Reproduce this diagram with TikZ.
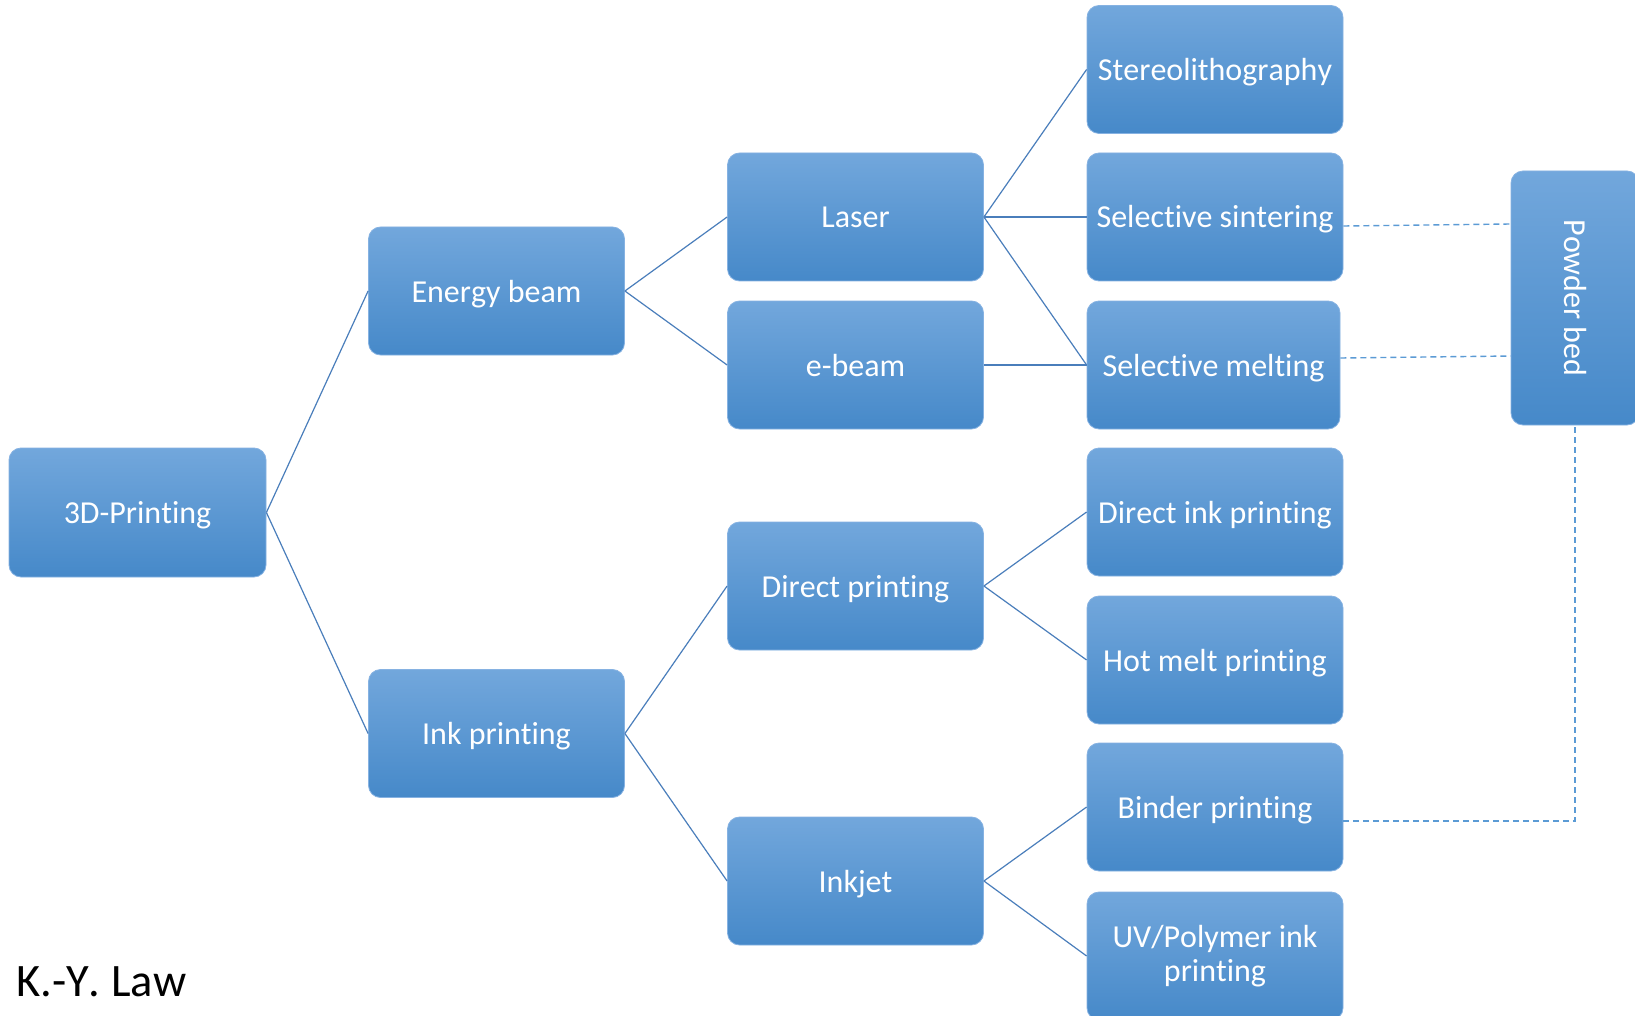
\documentclass[tikz,border=0pt]{standalone}
\usepackage{fontspec}
\setmainfont{Carlito}[Ligatures={NoCommon}, Kerning=Off, RawFeature={-liga;-clig;-calt;-dlig}]
\definecolor{boxtop}{HTML}{72A7DC}
\definecolor{boxmid}{HTML}{5B9DDD}
\definecolor{boxbot}{HTML}{4689C9}
\definecolor{boxedge}{HTML}{86B2E2}
\definecolor{linkc}{HTML}{4A7EBB}
\definecolor{dashc}{HTML}{5B9BD5}
\begin{document}
\begin{tikzpicture}[x=1pt,y=-1pt,
  box/.style={rectangle, rounded corners=12pt, draw=boxedge, line width=0.8pt,
    top color=boxtop, middle color=boxmid, bottom color=boxbot,
    minimum width=256pt, minimum height=128pt, inner sep=4pt,
    text height=25pt, text depth=3pt,
    text=white, align=center, font=\fontsize{32}{34}\selectfont},
  link/.style={draw=linkc, line width=1.2pt},
  dlink/.style={draw=dashc, line width=1.4pt, dash pattern=on 6pt off 4pt}]
\clip (0,0) rectangle (1635,1016);
\fill[white] (0,0) rectangle (1635,1016);

\node[box, minimum width=257pt, minimum height=129pt] (p3d) at (137.5,512.5) {3D-Printing};
\node[box] (energy) at (496.5,291) {Energy beam};
\node[box] (ink) at (496.5,733.5) {Ink printing};
\node[box] (laser) at (855.5,217) {Laser};
\node[box] (ebeam) at (855.5,365) {e-beam};
\node[box] (direct) at (855.5,586) {Direct printing};
\node[box] (inkjet) at (855.5,881) {Inkjet};
\node[box] (stereo) at (1215,69.5) {Stereolithography};
\node[box] (sinter) at (1215,217) {Selective sintering};
\node[box, minimum width=253pt] (melt) at (1213.5,365) {Selective melting};
\node[box] (dink) at (1215,512) {Direct ink printing};
\node[box] (hot) at (1215,660) {Hot melt printing};
\node[box] (binder) at (1215,807) {Binder printing};
\node[box, text height=, text depth=] (uv) at (1215,956) {UV/Polymer ink\\printing};
\node[box, minimum width=128pt, minimum height=254pt] (powder) at (1575,298) {};
\node[text=white, rotate=-90, font=\fontsize{32}{34}\selectfont] (powdertxt) at (powder.center) {Powder bed};

\node[anchor=base west, inner sep=0pt, font=\fontsize{46.5}{50}\selectfont] (author) at (16,996) {K.-Y. Law};

\draw[link] (p3d.east) -- (energy.west);
\draw[link] (p3d.east) -- (ink.west);
\draw[link] (energy.east) -- (laser.west);
\draw[link] (energy.east) -- (ebeam.west);
\draw[link] (laser.east) -- (stereo.west);
\draw[link] (laser.east) -- (sinter.west);
\draw[link] (laser.east) -- (melt.west);
\draw[link] (ebeam.east) -- (melt.west);
\draw[link] (ink.east) -- (direct.west);
\draw[link] (ink.east) -- (inkjet.west);
\draw[link] (direct.east) -- (dink.west);
\draw[link] (direct.east) -- (hot.west);
\draw[link] (inkjet.east) -- (binder.west);
\draw[link] (inkjet.east) -- (uv.west);

\draw[dlink] ([yshift=-9pt]sinter.east) -- ([yshift=74pt]powder.west);
\draw[dlink] ([yshift=7pt]melt.east) -- ([yshift=-58pt]powder.west);
\draw[dlink] ([yshift=-14pt]binder.east) -| (powder.south);
\end{tikzpicture}
\end{document}
